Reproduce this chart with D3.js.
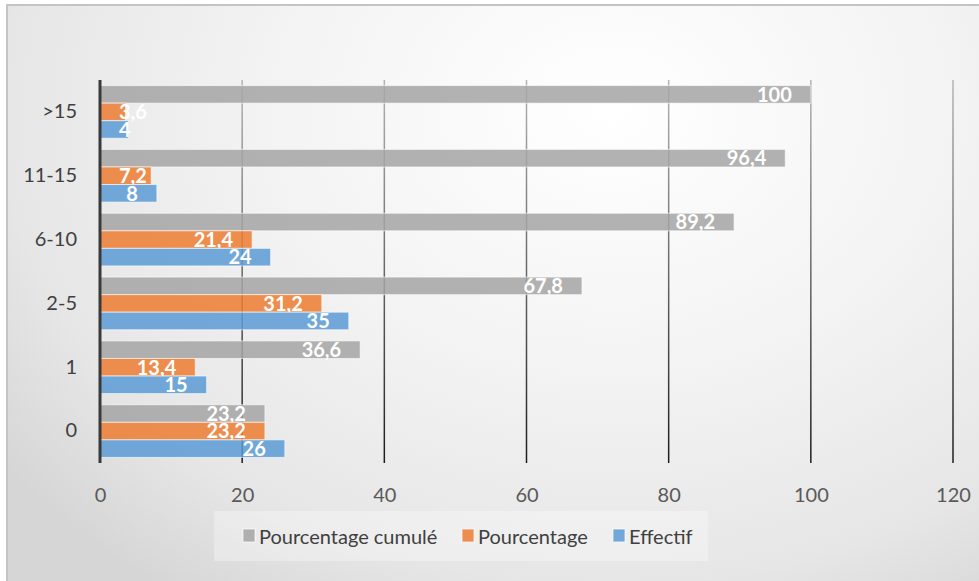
<!DOCTYPE html>
<html>
<head>
<meta charset="utf-8">
<script src="https://cdn.jsdelivr.net/npm/d3@7"></script>
<style>
  body { margin: 0; background: #fff; }
  svg { display: block; font-family: Lato, "Open Sans", sans-serif; }
</style>
</head>
<body>
<svg id="chart" width="979" height="581"></svg>
<script>
const width = 979;
const height = 581;

// data (bottom category first)
const categories = ['0', '1', '2-5', '6-10', '11-15', '>15'];
const effectif = [26, 15, 35, 24, 8, 4];
const pourcentage = [23.2, 13.4, 31.2, 21.4, 7.2, 3.6];
const cumule = [23.2, 36.6, 67.8, 89.2, 96.4, 100];
const xTicks = [0, 20, 40, 60, 80, 100, 120];

const seriesNames = ['Pourcentage cumulé', 'Pourcentage', 'Effectif'];
const seriesColors = ['#a5a5a5', '#ed7d31', '#5b9bd5'];
const seriesValues = [cumule, pourcentage, effectif];

// plot area (window.top is taken, so no "top")
const plotLeft = 100, plotRight = 953, plotTop = 80, plotBottom = 463;

const svg = d3.select('#chart');
const defs = svg.append('defs');

// background gradient, white up right, grey down left
const bg = defs.append('radialGradient')
  .attr('id', 'bg')
  .attr('gradientUnits', 'userSpaceOnUse')
  .attr('cx', 610).attr('cy', 110).attr('r', 760)
  .attr('gradientTransform', 'translate(610,110) scale(1,0.78) translate(-610,-110)');
bg.append('stop').attr('offset', 0).attr('stop-color', '#ffffff');
bg.append('stop').attr('offset', 0.45).attr('stop-color', '#f3f3f3');
bg.append('stop').attr('offset', 0.8).attr('stop-color', '#e6e6e6');
bg.append('stop').attr('offset', 1).attr('stop-color', '#d6d6d6');

const gridGrad = defs.append('linearGradient')
  .attr('id', 'gridGrad')
  .attr('gradientUnits', 'userSpaceOnUse')
  .attr('x1', 0).attr('y1', plotTop).attr('x2', 0).attr('y2', plotBottom);
gridGrad.append('stop').attr('offset', 0).attr('stop-color', '#b4b4b4');
gridGrad.append('stop').attr('offset', 1).attr('stop-color', '#1c1c1c');

svg.append('rect')
  .attr('x', 7).attr('y', 5)
  .attr('width', width).attr('height', height)
  .attr('fill', 'url(#bg)')
  .attr('stroke', '#c4c4c4')
  .attr('stroke-width', 2);

const x = d3.scaleLinear()
  .domain([0, 120])
  .range([plotLeft, plotRight]);

const y = d3.scaleBand()
  .domain(categories)
  .range([plotBottom, plotTop])
  .paddingInner(0.175)
  .paddingOuter(0.0875);

const ySub = d3.scaleBand()
  .domain(seriesNames)
  .range([0, y.bandwidth()]);

// vertical gridlines
svg.append('g')
  .selectAll('line')
  .data(xTicks.filter(t => t > 0))
  .join('line')
  .attr('x1', d => x(d)).attr('x2', d => x(d))
  .attr('y1', plotTop).attr('y2', plotBottom)
  .attr('stroke', 'url(#gridGrad)')
  .attr('stroke-width', 1.5);

// x tick labels, no axis line
const xAxis = d3.axisBottom(x).tickValues(xTicks).tickSize(0).tickPadding(0);
const gx = svg.append('g')
  .attr('transform', `translate(0,${plotBottom + 39})`)
  .call(xAxis);
gx.select('.domain').remove();
gx.selectAll('text')
  .attr('dy', 0)
  .attr('font-family', 'Lato, sans-serif')
  .attr('font-size', 20)
  .attr('fill', '#595959');

// category labels
const yAxis = d3.axisLeft(y).tickSize(0).tickPadding(23);
const gy = svg.append('g')
  .attr('transform', `translate(${plotLeft},0)`)
  .call(yAxis);
gy.select('.domain').remove();
gy.selectAll('text')
  .attr('font-family', 'Lato, sans-serif')
  .attr('font-size', 20)
  .attr('fill', '#404040');

// bars
const comma = d3.formatLocale({ decimal: ',', thousands: ' ', grouping: [3], currency: ['', ''] });
const fmt = v => comma.format('~')(v);

seriesNames.forEach((name, s) => {
  const rows = categories.map((c, i) => ({ cat: c, value: seriesValues[s][i] }));
  const g = svg.append('g');

  g.selectAll('rect')
    .data(rows)
    .join('rect')
    .attr('x', x(0))
    .attr('y', d => y(d.cat) + ySub(name))
    .attr('width', d => x(d.value) - x(0))
    .attr('height', ySub.bandwidth())
    .attr('fill', seriesColors[s])
    .attr('fill-opacity', 0.85)
    .attr('stroke', '#ffffff')
    .attr('stroke-opacity', 0.6)
    .attr('stroke-width', 1);

  g.selectAll('text')
    .data(rows)
    .join('text')
    .text(d => fmt(d.value))
    .attr('y', d => y(d.cat) + ySub(name) + ySub.bandwidth() - 1.5)
    .attr('font-size', 20)
    .attr('font-weight', 'bold')
    .attr('fill', '#ffffff')
    .attr('x', function(d) {
      const w = this.getComputedTextLength();
      return Math.max(x(0) + 19, x(d.value) - 19 - w);
    });
});

// the value axis line on the left
svg.append('line')
  .attr('x1', x(0)).attr('x2', x(0))
  .attr('y1', plotTop).attr('y2', plotBottom)
  .attr('stroke', '#3a3a3a')
  .attr('stroke-width', 3);

// legend
svg.append('rect')
  .attr('x', 214).attr('y', 511)
  .attr('width', 494).attr('height', 50)
  .attr('fill', '#ffffff')
  .attr('fill-opacity', 0.3);

const legendX = [243, 462, 613];
const legend = svg.append('g')
  .selectAll('g')
  .data(seriesNames)
  .join('g')
  .attr('transform', (d, i) => `translate(${legendX[i]},529)`);

legend.append('rect')
  .attr('width', 12).attr('height', 13)
  .attr('fill', (d, i) => seriesColors[i])
  .attr('fill-opacity', 0.85)
  .attr('stroke', '#ffffff')
  .attr('stroke-opacity', 0.7);

legend.append('text')
  .text(d => d)
  .attr('x', 16).attr('y', 15)
  .attr('font-size', 20)
  .attr('fill', '#404040');
</script>
</body>
</html>
